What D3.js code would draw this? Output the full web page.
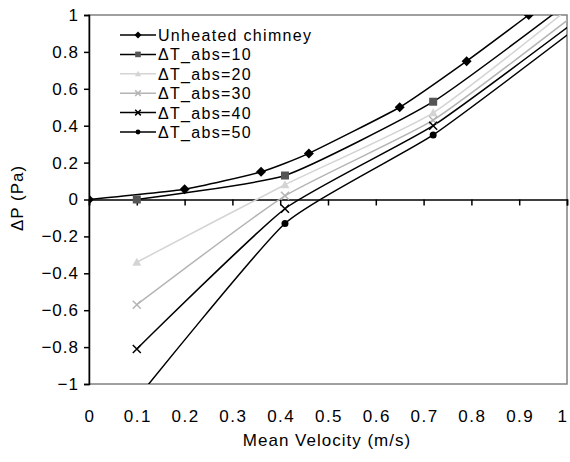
<!DOCTYPE html>
<html>
<head>
<meta charset="utf-8">
<script src="https://cdn.jsdelivr.net/npm/d3@7"></script>
<style>
  body { margin: 0; background: #fff; }
  text { font-family: "Liberation Sans", Arial, sans-serif; }
</style>
</head>
<body>
<div id="chart"></div>
<script>
// values
var xTicks = [0, 0.1, 0.2, 0.3, 0.4, 0.5, 0.6, 0.7, 0.8, 0.9, 1];
var yTicks = [-1, -0.8, -0.6, -0.4, -0.2, 0, 0.2, 0.4, 0.6, 0.8, 1];

var seriesNames = ["Unheated chimney", "\u0394T_abs=10", "\u0394T_abs=20", "\u0394T_abs=30", "\u0394T_abs=40", "\u0394T_abs=50"];

var unheatedX = [0, 0.2, 0.36, 0.46, 0.65, 0.79, 0.92];
var unheatedY = [0, 0.055, 0.15, 0.25, 0.5, 0.75, 1.0];

var heatedX = [0.1, 0.41, 0.72, 1.03];
var dT10 = [0.0, 0.13, 0.53, 1.12];
var dT20 = [-0.34, 0.08, 0.47, 1.09];
var dT30 = [-0.57, 0.02, 0.43, 1.03];
var dT40 = [-0.81, -0.05, 0.40, 0.99];
var dT50 = [-1.08, -0.13, 0.35, 0.95];

// look of each series
var styles = [
    {line: "#000", mark: "diamond", fill: "#000"},
    {line: "#000", mark: "square", fill: "#555"},
    {line: "#d4d4d4", mark: "triangle", fill: "#d4d4d4"},
    {line: "#b4b4b4", mark: "cross", fill: "#b4b4b4"},
    {line: "#000", mark: "star", fill: "#000"},
    {line: "#000", mark: "circle", fill: "#000"}
];

var seriesY = [unheatedY, dT10, dT20, dT30, dT40, dT50];
var series = seriesY.map(function(ys, i) {
    var xs = i === 0 ? unheatedX : heatedX;
    return {name: seriesNames[i], style: styles[i], pts: ys.map(function(y, j) { return {x: xs[j], y: y}; })};
});

var svgWidth = 570, svgHeight = 462;
var margin = {top: 15, left: 89, right: 3, bottom: 78};
var width = svgWidth - margin.left - margin.right;
var height = svgHeight - margin.top - margin.bottom;

var svg = d3.select("#chart").append("svg").attr("width", svgWidth).attr("height", svgHeight);
var g = svg.append("g").attr("transform", `translate(${margin.left}, ${margin.top})`);

var x = d3.scaleLinear().domain([0, 1]).range([0, width]);
var y = d3.scaleLinear().domain([-1, 1]).range([height, 0]);

// plot frame (grey)
g.append("rect").attr("x", 0).attr("y", 0).attr("width", width).attr("height", height)
    .attr("fill", "none").attr("stroke", "#808080").attr("stroke-width", 1.5);

g.append("clipPath").attr("id", "clip").append("rect")
    .attr("x", 0).attr("y", 0).attr("width", width).attr("height", height);

// y axis
var yAxis = d3.axisLeft(y).tickValues(yTicks).tickSize(5).tickPadding(5).tickFormat(d3.format("~g"));
var yg = g.append("g").call(yAxis);
yg.select(".domain").attr("stroke", "#000").attr("stroke-width", 1.5);
yg.selectAll(".tick line").attr("stroke", "#000").attr("stroke-width", 1.5);
yg.selectAll("text").attr("font-size", 17).attr("letter-spacing", 1).attr("fill", "#000")
    .attr("font-family", "Liberation Sans, Arial, sans-serif");

// x axis sits on y=0, labels at the bottom
var xAxis = d3.axisBottom(x).tickValues(xTicks).tickSize(6).tickFormat("");
var xg = g.append("g").attr("transform", `translate(0, ${y(0)})`).call(xAxis);
xg.select(".domain").attr("stroke", "#000").attr("stroke-width", 1.5);
xg.selectAll(".tick line").attr("stroke", "#000").attr("stroke-width", 1.5);

// last label pulled in a little so it stays inside the picture
g.append("g").selectAll("text").data(xTicks).enter().append("text")
    .attr("x", d => Math.min(x(d) + 1, width - 4))
    .attr("y", height + 38)
    .attr("text-anchor", "middle")
    .attr("font-size", 17)
    .attr("letter-spacing", 1.5)
    .text(d => d3.format("~g")(d));

// axis titles
svg.append("text").attr("x", margin.left + x(0.5) - 1).attr("y", 446)
    .attr("text-anchor", "middle").attr("font-size", 17).attr("letter-spacing", 1)
    .text("Mean Velocity (m/s)");
svg.append("text").attr("transform", "translate(23, 198) rotate(-90)")
    .attr("text-anchor", "middle").attr("font-size", 17).attr("letter-spacing", 1)
    .text("\u0394P (Pa)");

// marker drawing, k scales it down for the legend
function marker(sel, st, k) {
    var s = k || 1;
    if (st.mark === "diamond") {
        sel.append("path").attr("d", `M0,${-5*s}L${5*s},0L0,${5*s}L${-5*s},0Z`).attr("fill", st.fill);
    } else if (st.mark === "square") {
        sel.append("rect").attr("x", -4*s).attr("y", -4*s).attr("width", 8*s).attr("height", 8*s).attr("fill", st.fill);
    } else if (st.mark === "triangle") {
        sel.append("path").attr("d", `M0,${-4.5*s}L${4.5*s},${3.5*s}L${-4.5*s},${3.5*s}Z`).attr("fill", st.fill);
    } else if (st.mark === "cross" || st.mark === "star") {
        sel.append("path").attr("d", `M${-4*s},${-4*s}L${4*s},${4*s}M${-4*s},${4*s}L${4*s},${-4*s}`)
            .attr("stroke", st.fill).attr("stroke-width", 1.5);
    } else {
        sel.append("circle").attr("r", 3.5*s).attr("fill", st.fill);
    }
}

var line = d3.line().x(d => x(d.x)).y(d => y(d.y)).curve(d3.curveCardinal.tension(0.5));

var plot = g.append("g").attr("clip-path", "url(#clip)");
// draw back-to-front so the black lines stay on top of the light ones
var order = [2, 3, 1, 4, 5, 0];
order.forEach(function(i) {
    var s = series[i];
    plot.append("path").datum(s.pts).attr("d", line)
        .attr("fill", "none").attr("stroke", s.style.line).attr("stroke-width", 1.5);
});
order.forEach(function(i) {
    var s = series[i];
    plot.append("g").selectAll("g").data(s.pts).enter().append("g")
        .attr("transform", d => `translate(${x(d.x)}, ${y(d.y)})`)
        .each(function() { marker(d3.select(this), s.style); });
});

// legend
var legend = svg.append("g").attr("transform", "translate(120, 35)");
series.forEach(function(s, i) {
    var row = legend.append("g").attr("transform", `translate(0, ${i * 19.4})`);
    row.append("line").attr("x1", 0).attr("x2", 36).attr("y1", 0).attr("y2", 0)
        .attr("stroke", s.style.line).attr("stroke-width", 1.5);
    marker(row.append("g").attr("transform", "translate(18, 0)"), s.style, 0.7);
    row.append("text").attr("x", 38).attr("y", 6).attr("font-size", 16)
        .attr("letter-spacing", 1.3).text(s.name);
});
</script>
</body>
</html>
